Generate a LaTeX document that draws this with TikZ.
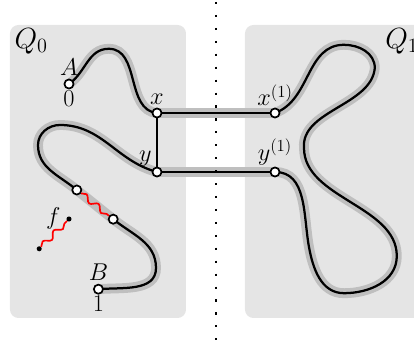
\documentclass[tikz,border=0pt]{standalone}
\usetikzlibrary{decorations.pathmorphing}
\pgfdeclarelayer{back}
\pgfdeclarelayer{mid}
\pgfsetlayers{back,mid,main}

\begin{document}
\begin{tikzpicture}[
        region/.style={fill=black!10, rounded corners=6pt},
        pt/.style={circle, draw, fill=white, line width=1.2pt, inner sep=0pt, minimum size=6.5pt},
        endpt/.style={circle, fill=black, inner sep=0pt, minimum size=3.6pt},
        strand/.style={line width=1.6pt, preaction={draw=black!25, line width=7pt}},
        halo/.style={draw=black!25, line width=7pt},
        wiggle/.style={red, line width=1.2pt, decorate, decoration={snake, amplitude=2pt, segment length=11pt}},
        lbl/.style={font=\LARGE, inner sep=1pt},
        divider/.style={line width=1.5pt, dash pattern=on 1.5pt off 7.7pt}
    ]
        \useasboundingbox (0,0) rectangle (10.35,8.75);

        % the two regions and the cut between them
        \begin{pgfonlayer}{back}
            \fill[region] (0.25,0.8) rectangle (4.65,8.125);
            \fill[region] (6.125,0.8) rectangle (10.8,8.125);
        \end{pgfonlayer}
        \draw[divider] (5.39,8.7) -- (5.39,0);

        \node[lbl, font=\huge] (q0) at (0.78,7.72) {$Q_0$};
        \node[lbl, font=\huge] (q1) at (10.05,7.72) {$Q_1$};

        % points
        \node[pt, label={[lbl, label distance=1pt]above:$A$}, label={[lbl]below:$0$}] (A) at (1.725,6.65) {};
        \node[pt, label={[lbl, label distance=1pt]above:$x$}] (x) at (3.925,5.925) {};
        \node[pt, label={[lbl]above left:$y$}] (y) at (3.925,4.45) {};
        \node[pt, label={[lbl]above:$x^{(1)}$}] (x1) at (6.875,5.925) {};
        \node[pt, label={[lbl]above:$y^{(1)}$}] (y1) at (6.875,4.45) {};
        \node[pt] (p1) at (1.92,4.0) {};
        \node[pt] (p2) at (2.83,3.27) {};
        \node[pt, label={[lbl, label distance=1pt]above:$B$}, label={[lbl]below:$1$}] (B) at (2.46,1.52) {};

        % the loose piece f
        \node[endpt] (fa) at (0.98,2.53) {};
        \node[endpt] (fb) at (1.725,3.275) {};
        \node[lbl] (flbl) at (1.33,3.3) {$f$};
        \draw[wiggle] (fa) -- (fb);

        % strands
        \begin{pgfonlayer}{mid}
            \draw[strand] (A.center) to[out=35,in=180] (2.72,7.53) to[out=0,in=175] (x.center);
            \draw[strand] (y.center) to[out=165,in=0] (1.5,5.625)
                to[out=180,in=90] (0.95,5.125) to[out=-90,in=140] (p1.center);
            \draw[halo] (p1.center) -- (p2.center);
            \draw[strand] (p2.center) to[out=-39,in=90] (3.9,2.05) to[out=-90,in=5] (B.center);
            \draw[strand] (x.center) -- (x1.center);
            \draw[strand] (y.center) -- (y1.center);
            \draw[strand] (x1.center) to[out=20,in=180] (8.6,7.63) to[out=0,in=90] (9.37,7.05)
                to[out=-95,in=95, looseness=0.9] (7.6,5.05) to[out=-90,in=90, looseness=0.9] (9.92,2.35)
                to[out=-90,in=0] (8.6,1.42) to[out=180,in=-80] (7.72,2.6) to[out=100,in=0] (y1.center);
        \end{pgfonlayer}
        \draw[line width=1.6pt] (x) -- (y);
        \draw[wiggle] (p1) -- (p2);
    \end{tikzpicture}
\end{document}
